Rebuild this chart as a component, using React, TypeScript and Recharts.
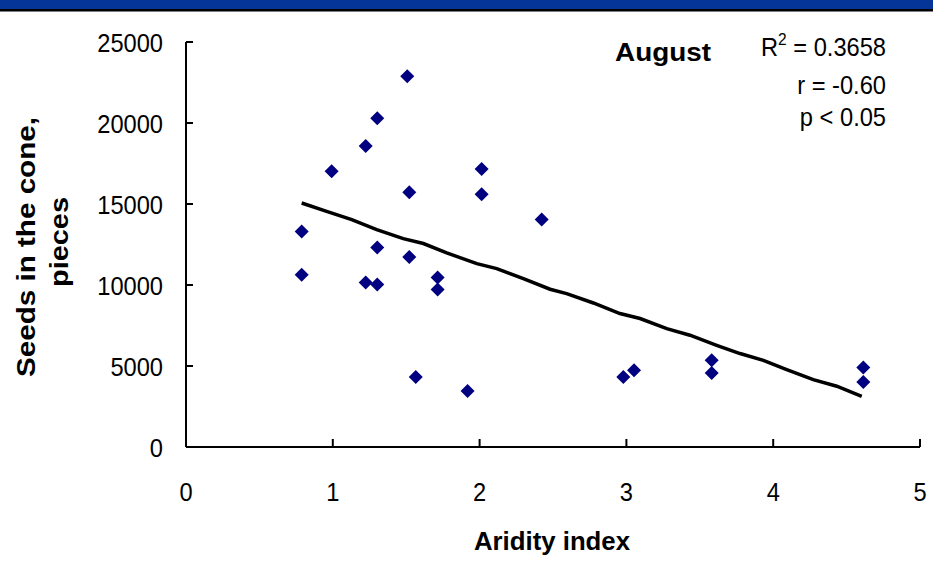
import React from 'react';
import {
  ScatterChart,
  Scatter,
  XAxis,
  YAxis,
  Customized,
} from 'recharts';

// aridity index per site
const aridity = [
  1.507, 1.303, 1.224, 0.992, 2.014, 1.521, 2.014, 2.423, 0.788, 1.303, 1.521, 0.788,
  1.224, 1.303, 1.714, 1.714, 1.565, 1.918, 2.979, 3.052, 3.581, 3.581, 4.614, 4.614,
];
// seeds per cone, pieces
const seeds = [
  22880, 20290, 18580, 17020, 17160, 15720, 15600, 14040, 13310, 12310, 11730, 10640,
  10150, 10025, 10460, 9720, 4320, 3460, 4320, 4735, 5350, 4570, 4900, 4010,
];

// trend curve
const trendX = [
  0.788, 0.958, 1.129, 1.299, 1.48, 1.617, 1.776, 1.981, 2.117, 2.298, 2.48, 2.593,
  2.775, 2.956, 3.093, 3.275, 3.433, 3.615, 3.774, 3.933, 4.092, 4.273, 4.433, 4.603,
];
const trendY = [
  15060, 14550, 14040, 13420, 12860, 12560, 11980, 11320, 11010, 10400, 9740, 9470,
  8890, 8240, 7930, 7310, 6900, 6280, 5770, 5350, 4780, 4160, 3750, 3130,
];

const xTicks = [0, 1, 2, 3, 4, 5];
const yTicks = [0, 5000, 10000, 15000, 20000, 25000];

const statLines = ['r = -0.60', 'p < 0.05'];

const FONT = '"Liberation Sans", Arial, sans-serif';
// glyphs are drawn a little narrow
const SX = 0.91;

const points = aridity.map((x, i) => ({ x, y: seeds[i] }));
const trend = trendX.map((x, i) => ({ x, y: trendY[i] }));

const Diamond = (props: any) => {
  const { cx, cy } = props;
  const r = 7;
  return (
    <polygon
      points={`${cx},${cy - r} ${cx + r},${cy} ${cx},${cy + r} ${cx - r},${cy}`}
      fill="#000080"
    />
  );
};

const XTick = (props: any) => {
  const { x, y, payload } = props;
  return (
    <g>
      <line x1={x} x2={x} y1={y} y2={y - 8} stroke="#000" strokeWidth={2} />
      <text
        transform={`translate(${x}, ${y + 54}) scale(${SX}, 1)`}
        textAnchor="middle"
        fontSize={26}
        fontFamily={FONT}
        fill="#000"
      >
        {payload.value}
      </text>
    </g>
  );
};

const YTick = (props: any) => {
  const { x, y, payload } = props;
  return (
    <g>
      <line x1={x} x2={x + 7} y1={y} y2={y} stroke="#000" strokeWidth={2} />
      <text
        transform={`translate(${x - 23}, ${y + 9.5}) scale(${SX}, 1)`}
        textAnchor="end"
        fontSize={26}
        fontFamily={FONT}
        fill="#000"
      >
        {payload.value}
      </text>
    </g>
  );
};

const Annotations = () => (
  <g fontFamily={FONT} fill="#000">
    <rect x={0} y={0} width={933} height={9} fill="#063599" />
    <rect x={0} y={9} width={933} height={2.5} fill="#000" />
    <text x={615} y={61} fontSize={26} fontWeight="bold" textLength={96} lengthAdjust="spacingAndGlyphs">
      August
    </text>
    <text transform={`translate(886, 56) scale(${SX}, 1)`} fontSize={26} textAnchor="end">
      R<tspan fontSize={17} dy={-11}>2</tspan>
      <tspan dy={11}> = 0.3658</tspan>
    </text>
    {statLines.map((s, i) => (
      <text
        key={s}
        transform={`translate(886, ${94 + i * 32}) scale(${SX}, 1)`}
        fontSize={26}
        textAnchor="end"
      >
        {s}
      </text>
    ))}
    <text x={474} y={550} fontSize={25} fontWeight="bold" textLength={156} lengthAdjust="spacingAndGlyphs">
      Aridity index
    </text>
    <text
      transform="translate(35, 247) rotate(-90)"
      textAnchor="middle"
      fontSize={25}
      fontWeight="bold"
      textLength={260}
      lengthAdjust="spacingAndGlyphs"
    >
      Seeds in the cone,
    </text>
    <text
      transform="translate(68, 242) rotate(-90)"
      textAnchor="middle"
      fontSize={25}
      fontWeight="bold"
      textLength={90}
      lengthAdjust="spacingAndGlyphs"
    >
      pieces
    </text>
  </g>
);

export default function App() {
  return (
    <div style={{ position: 'absolute', left: 0, top: 0, width: 933, height: 583, background: '#fff' }}>
      <ScatterChart width={933} height={583} margin={{ top: 42, right: 13, left: 0, bottom: 0 }}>
        <XAxis
          type="number"
          dataKey="x"
          domain={[0, 5]}
          ticks={xTicks}
          height={136}
          tickSize={0}
          tickMargin={0}
          tickLine={false}
          axisLine={{ stroke: '#000', strokeWidth: 2 }}
          tick={<XTick />}
          allowDataOverflow
        />
        <YAxis
          type="number"
          dataKey="y"
          domain={[0, 25000]}
          ticks={yTicks}
          width={186}
          tickSize={0}
          tickMargin={0}
          tickLine={false}
          axisLine={{ stroke: '#000', strokeWidth: 2 }}
          tick={<YTick />}
          allowDataOverflow
        />
        <Scatter
          data={trend}
          line={{ stroke: '#000', strokeWidth: 3.5 }}
          shape={() => <g />}
          isAnimationActive={false}
        />
        <Scatter data={points} shape={<Diamond />} isAnimationActive={false} />
        <Customized component={<Annotations />} />
      </ScatterChart>
    </div>
  );
}
